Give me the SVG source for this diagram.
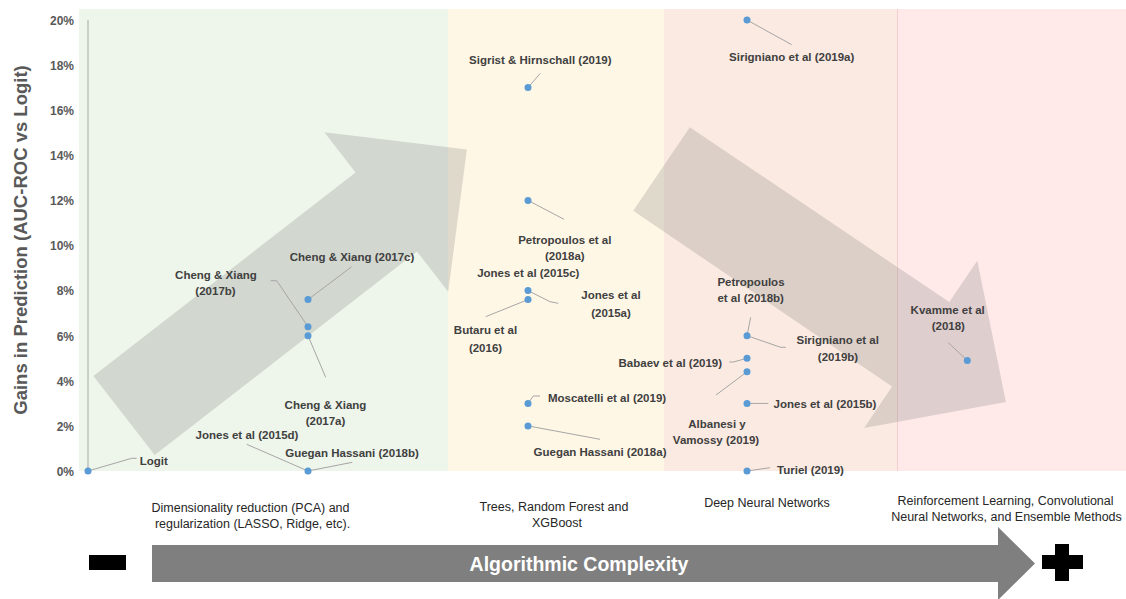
<svg xmlns="http://www.w3.org/2000/svg" width="1126" height="599" viewBox="0 0 1126 599">
<style>
.tick{font-family:"Liberation Sans",Arial,sans-serif;font-weight:bold;font-size:12px;fill:#595959;text-anchor:end}
.lbl{font-family:"Liberation Sans",Arial,sans-serif;font-weight:bold;font-size:11.5px;fill:#404040;text-anchor:middle}
.cat{font-family:"Liberation Sans",Arial,sans-serif;font-size:12.5px;fill:#262626;text-anchor:middle}
.pt{fill:#5B9BD5}
.lead{fill:none;stroke:#A6A6A6;stroke-width:1}
.big{fill:#7F7F7F;fill-opacity:0.25}
</style>
<rect width="1126" height="599" fill="#FFFFFF"/>
<g id="bands">
<rect x="79" y="9" width="369" height="462" fill="#EEF5EA"/>
<rect x="448" y="9" width="216" height="462" fill="#FFF7E6"/>
<rect x="664" y="9" width="233" height="462" fill="#FBEAE1"/>
<rect x="897" y="9" width="229" height="462" fill="#FFE9E9"/>
<line x1="897.5" y1="9" x2="897.5" y2="471" stroke="#F5CFCF" stroke-width="1"/>
</g>
<g id="trend-arrows">
<polygon class="big" points="93.4,376 355.6,172.5 324.4,132.2 466.9,149.5 448.2,291.8 417,251.5 154.7,455"/>
<polygon class="big" points="689.8,127.2 949.3,302.1 977.3,260.7 1005.9,402 864.1,427.9 892.1,386.5 633.2,210.8"/>
</g>
<g id="y-axis">
<line x1="88" y1="20" x2="88" y2="471" stroke="#A6A6A6" stroke-width="1"/>
<text class="tick" x="74" y="25">20%</text>
<text class="tick" x="74" y="70">18%</text>
<text class="tick" x="74" y="115">16%</text>
<text class="tick" x="74" y="160">14%</text>
<text class="tick" x="74" y="205">12%</text>
<text class="tick" x="74" y="250">10%</text>
<text class="tick" x="74" y="295">8%</text>
<text class="tick" x="74" y="341">6%</text>
<text class="tick" x="74" y="386">4%</text>
<text class="tick" x="74" y="431">2%</text>
<text class="tick" x="74" y="476">0%</text>
<text transform="translate(27,240) rotate(-90)" font-family="Liberation Sans, Arial, sans-serif" font-weight="bold" font-size="18.5" fill="#595959" text-anchor="middle">Gains in Prediction (AUC-ROC vs Logit)</text>
</g>
<g id="connectors">
<polyline class="lead" points="88,471 131.7,458.3 136.7,458.3"/>
<polyline class="lead" points="246.7,444.3 308,471"/>
<polyline class="lead" points="308,471 352.3,462.3"/>
<polyline class="lead" points="308,299.6 351.7,266.7"/>
<polyline class="lead" points="270.7,280.7 276.7,280.7 308,326.7"/>
<polyline class="lead" points="308,335.7 325.7,377.3"/>
<polyline class="lead" points="528,87.6 540.3,73.3"/>
<polyline class="lead" points="528,200.4 564,219.3"/>
<polyline class="lead" points="747,20 791.7,44.7"/>
<polyline class="lead" points="528,290.6 550,301.7 558.3,303.3"/>
<polyline class="lead" points="528,299.6 485.7,316.7"/>
<polyline class="lead" points="528,403.4 533.3,396 540,396"/>
<polyline class="lead" points="528,425.9 600,439.3"/>
<polyline class="lead" points="750.7,317.3 747,335.7"/>
<polyline class="lead" points="747,335.7 780.7,347.3 785.7,347.3"/>
<polyline class="lead" points="747,358.3 733.3,362 729.3,362"/>
<polyline class="lead" points="747,371.8 716,395"/>
<polyline class="lead" points="747,403.4 768.3,403.4"/>
<polyline class="lead" points="747,471 770,467.7"/>
<polyline class="lead" points="967.3,360.5 948.3,342.7"/>
</g>
<g id="logit"><circle class="pt" cx="88" cy="471" r="3.5"/><text class="lbl" x="153.7" y="465">Logit</text></g>
<g id="jones-2015d"><circle class="pt" cx="308" cy="471" r="3.5"/><text class="lbl" x="247" y="439.3">Jones et al (2015d)</text></g>
<g id="guegan-2018b"><text class="lbl" x="352" y="457.3">Guegan Hassani  (2018b)</text></g>
<g id="cheng-2017c"><circle class="pt" cx="308" cy="299.6" r="3.5"/><text class="lbl" x="352" y="260.7">Cheng &amp; Xiang (2017c)</text></g>
<g id="cheng-2017b"><circle class="pt" cx="308" cy="326.7" r="3.5"/><text class="lbl" x="216" y="279.3">Cheng &amp; Xiang</text><text class="lbl" x="215.5" y="295.3">(2017b)</text></g>
<g id="cheng-2017a"><circle class="pt" cx="308" cy="335.7" r="3.5"/><text class="lbl" x="325.5" y="409">Cheng &amp; Xiang</text><text class="lbl" x="325.5" y="425">(2017a)</text></g>
<g id="sigrist-2019"><circle class="pt" cx="528" cy="87.6" r="3.5"/><text class="lbl" x="540.3" y="64">Sigrist &amp; Hirnschall  (2019)</text></g>
<g id="petropoulos-2018a"><circle class="pt" cx="528" cy="200.4" r="3.5"/><text class="lbl" x="564.8" y="243.5">Petropoulos et al</text><text class="lbl" x="564.8" y="260">(2018a)</text></g>
<g id="jones-2015c"><circle class="pt" cx="528" cy="290.6" r="3.5"/><text class="lbl" x="528.3" y="277.3">Jones et al (2015c)</text></g>
<g id="jones-2015a"><text class="lbl" x="611" y="299.3">Jones et al</text><text class="lbl" x="611" y="316.5">(2015a)</text></g>
<g id="butaru-2016"><circle class="pt" cx="528" cy="299.6" r="3.5"/><text class="lbl" x="485.5" y="334.3">Butaru et al</text><text class="lbl" x="485.5" y="351.5">(2016)</text></g>
<g id="moscatelli-2019"><circle class="pt" cx="528" cy="403.4" r="3.5"/><text class="lbl" x="607" y="401.7">Moscatelli  et al (2019)</text></g>
<g id="guegan-2018a"><circle class="pt" cx="528" cy="425.9" r="3.5"/><text class="lbl" x="600" y="456">Guegan Hassani  (2018a)</text></g>
<g id="sirigniano-2019a"><circle class="pt" cx="747" cy="20" r="3.5"/><text class="lbl" x="791.7" y="61">Sirigniano  et al (2019a)</text></g>
<g id="petropoulos-2018b"><text class="lbl" x="751" y="286">Petropoulos</text><text class="lbl" x="750.7" y="302.3">et al (2018b)</text></g>
<g id="sirigniano-2019b"><circle class="pt" cx="747" cy="335.7" r="3.5"/><text class="lbl" x="837.7" y="344">Sirigniano  et al</text><text class="lbl" x="838" y="360.7">(2019b)</text></g>
<g id="babaev-2019"><circle class="pt" cx="747" cy="358.3" r="3.5"/><text class="lbl" x="670.3" y="366.7">Babaev  et al (2019)</text></g>
<g id="albanesi-2019"><circle class="pt" cx="747" cy="371.8" r="3.5"/><text class="lbl" x="717" y="427.7">Albanesi  y</text><text class="lbl" x="716" y="444">Vamossy (2019)</text></g>
<g id="jones-2015b"><circle class="pt" cx="747" cy="403.4" r="3.5"/><text class="lbl" x="825" y="408.3">Jones et al (2015b)</text></g>
<g id="turiel-2019"><circle class="pt" cx="747" cy="471" r="3.5"/><text class="lbl" x="810.5" y="474">Turiel (2019)</text></g>
<g id="kvamme-2018"><circle class="pt" cx="967.3" cy="360.5" r="3.5"/><text class="lbl" x="947.7" y="314">Kvamme  et al</text><text class="lbl" x="948.3" y="330">(2018)</text></g>
<g id="categories">
<text class="cat" x="250.5" y="512">Dimensionality reduction (PCA) and</text>
<text class="cat" x="252.5" y="528">regularization (LASSO, Ridge, etc).</text>
<text class="cat" x="554" y="511">Trees, Random Forest and</text>
<text class="cat" x="557" y="527">XGBoost</text>
<text class="cat" x="767" y="507">Deep Neural Networks</text>
<text class="cat" x="1005.5" y="505">Reinforcement  Learning, Convolutional</text>
<text class="cat" x="1006.5" y="521">Neural Networks,  and Ensemble Methods</text>
</g>
<g id="complexity-arrow">
<polygon points="152,545 998,545 998,527 1035,563.5 998,600 998,582 152,582" fill="#7F7F7F"/>
<text x="579" y="571" font-family="Liberation Sans, Arial, sans-serif" font-weight="bold" font-size="19.5" fill="#FFFFFF" text-anchor="middle">Algorithmic  Complexity</text>
</g>
<g id="minus"><rect x="89" y="555" width="37" height="15" fill="#000000"/></g>
<g id="plus">
<rect x="1055" y="544" width="14" height="37" fill="#000000"/>
<rect x="1042" y="555" width="41" height="14" fill="#000000"/>
</g>
</svg>
